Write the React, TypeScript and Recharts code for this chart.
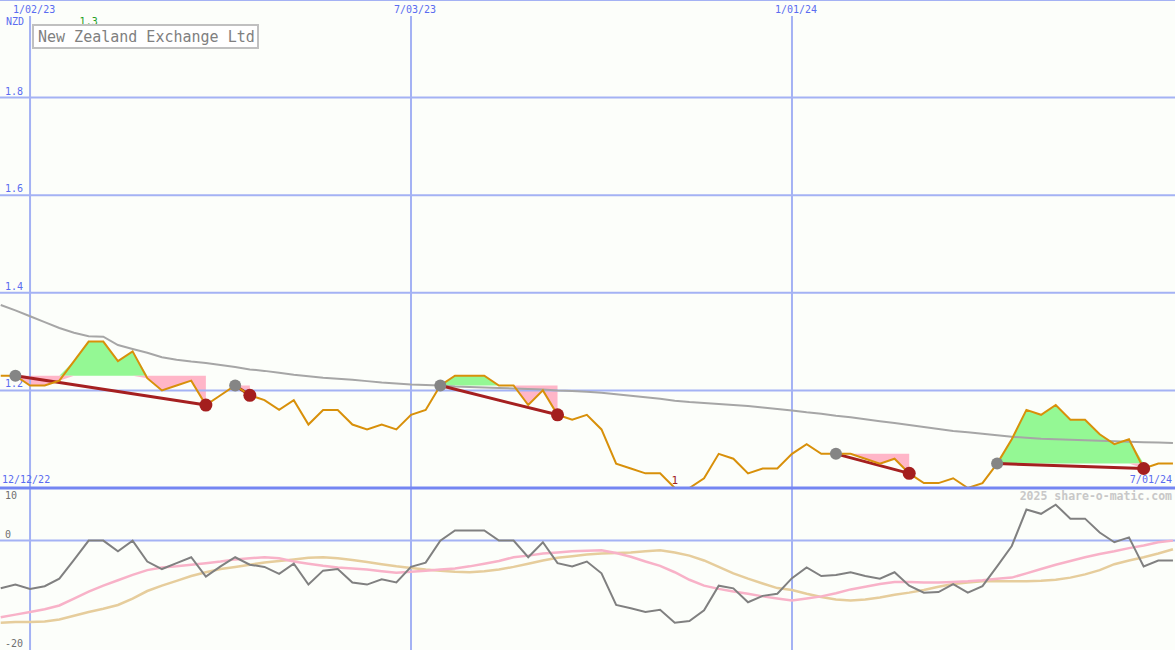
import { ComposedChart, Line, Area, XAxis, YAxis, ReferenceLine, ReferenceDot } from 'recharts';

// weekly points, week 0 = 2 Jan 2023
const weeks = [
  -2, -1, 0, 1, 2, 3, 4, 5, 6, 7, 8, 9, 10, 11, 12, 13, 14, 15, 16, 17, 18, 19, 20, 21, 22, 23, 24, 25, 26, 27,
  28, 29, 30, 31, 32, 33, 34, 35, 36, 37, 38, 39, 40, 41, 42, 43, 44, 45, 46, 47, 48, 49, 50, 51, 52, 53, 54, 55,
  56, 57, 58, 59, 60, 61, 62, 63, 64, 65, 66, 67, 68, 69, 70, 71, 72, 73, 74, 75, 76, 77, 78,
];

const price = [
  1.23, 1.23, 1.21, 1.21, 1.22, 1.26, 1.30, 1.30, 1.26, 1.28, 1.225, 1.20, 1.21, 1.22, 1.17, 1.19, 1.21, 1.19,
  1.18, 1.16, 1.18, 1.13, 1.16, 1.16, 1.13, 1.12, 1.13, 1.12, 1.15, 1.16, 1.21, 1.23, 1.23, 1.23, 1.21, 1.21,
  1.17, 1.20, 1.15, 1.14, 1.15, 1.12, 1.05, 1.04, 1.03, 1.03, 1.00, 1.00, 1.02, 1.07, 1.06, 1.03, 1.04, 1.04,
  1.07, 1.09, 1.07, 1.07, 1.07, 1.06, 1.05, 1.06, 1.03, 1.01, 1.01, 1.02, 1.00, 1.01, 1.05, 1.10, 1.16, 1.15,
  1.17, 1.14, 1.14, 1.11, 1.09, 1.10, 1.04, 1.05, 1.05,
];

const priceAvg = [
  1.375, 1.364, 1.352, 1.340, 1.328, 1.318, 1.311, 1.310, 1.293, 1.285, 1.277, 1.268, 1.263, 1.259, 1.256,
  1.252, 1.248, 1.243, 1.240, 1.236, 1.232, 1.229, 1.226, 1.224, 1.222, 1.219, 1.216, 1.214, 1.212, 1.211,
  1.210, 1.208, 1.207, 1.206, 1.205, 1.204, 1.203, 1.202, 1.200, 1.199, 1.197, 1.195, 1.192, 1.189, 1.186,
  1.183, 1.179, 1.176, 1.174, 1.172, 1.170, 1.168, 1.165, 1.162, 1.159, 1.155, 1.152, 1.148, 1.145, 1.141,
  1.137, 1.133, 1.129, 1.125, 1.121, 1.117, 1.114, 1.111, 1.108, 1.105, 1.103, 1.101, 1.100, 1.099, 1.098,
  1.097, 1.096, 1.095, 1.094, 1.093, 1.092,
];

const momentum = [
  -8.9, -8.2, -9.0, -8.5, -7.1, -3.6, 0, 0, -2.0, 0, -3.9, -5.3, -4.2, -3.1, -6.7, -4.8, -3.1, -4.5, -4.9, -6.2,
  -4.3, -8.2, -5.6, -5.3, -7.8, -8.2, -7.2, -7.8, -4.9, -4.1, 0, 1.9, 1.9, 1.9, 0, 0, -3.1, -0.3, -4.2, -4.8,
  -3.9, -6.1, -12.0, -12.6, -13.3, -12.9, -15.3, -15.0, -13.0, -8.4, -8.9, -11.5, -10.3, -9.9, -7.0, -5.0,
  -6.6, -6.4, -5.9, -6.6, -7.1, -5.9, -8.4, -9.7, -9.6, -8.1, -9.7, -8.5, -4.8, -1.0, 5.8, 5.0, 6.7, 4.1, 4.1,
  1.5, -0.3, 0.6, -4.8, -3.7, -3.7,
];

const momFast = [
  -14.3, -13.8, -13.3, -12.8, -12.1, -10.8, -9.5, -8.4, -7.4, -6.4, -5.5, -5.0, -4.8, -4.5, -4.2, -3.9, -3.5,
  -3.3, -3.1, -3.3, -3.9, -4.3, -4.7, -5.0, -5.2, -5.4, -5.7, -6.0, -5.8, -5.6, -5.4, -5.2, -4.8, -4.3, -3.8,
  -3.1, -2.8, -2.4, -2.2, -2.0, -1.9, -1.8, -2.3, -3.0, -3.9, -4.7, -5.9, -7.3, -8.4, -9.0, -9.5, -9.9, -10.4,
  -10.8, -11.15, -10.8, -10.4, -9.8, -9.1, -8.6, -8.1, -7.7, -7.7, -7.8, -7.8, -7.7, -7.6, -7.4, -7.1, -6.9,
  -6.1, -5.3, -4.5, -3.8, -3.1, -2.5, -2.0, -1.4, -0.9, -0.3, 0.0,
];

const momSlow = [
  -15.3, -15.2, -15.2, -15.1, -14.7, -14.0, -13.3, -12.7, -12.0, -10.8, -9.4, -8.4, -7.5, -6.6, -5.9, -5.3,
  -4.9, -4.5, -4.1, -3.8, -3.5, -3.2, -3.1, -3.3, -3.6, -4.0, -4.4, -4.8, -5.1, -5.4, -5.6, -5.8, -5.9, -5.7,
  -5.4, -4.9, -4.3, -3.7, -3.2, -2.9, -2.6, -2.4, -2.3, -2.2, -2.0, -1.8, -2.2, -2.8, -3.7, -4.9, -6.1, -7.1,
  -8.0, -8.85, -9.2, -9.9, -10.5, -11.0, -11.15, -11.0, -10.6, -10.1, -9.7, -9.2, -8.6, -8.1, -7.8, -7.6, -7.6,
  -7.6, -7.6, -7.5, -7.3, -6.9, -6.3, -5.5, -4.4, -3.7, -3.1, -2.4, -1.6,
];

// trend signals: start week (grey dot) -> end week (red dot)
const segStart = [-1, 14, 28, 55, 66];
const segEnd = [12, 15, 36, 60, 76];

const dateTicks = [0, 26, 52];
const dateLabels = ['1/02/23', '7/03/23', '1/01/24'];
const priceTicks = [1.2, 1.4, 1.6, 1.8];

const X_MIN = -2.05;
const X_MAX = 78.14;
const MONO = "'DejaVu Sans Mono', monospace";
const BLUE = '#5a6cf0';
const GRID = '#a4b2f4';

const rows = weeks.map((w, i) => {
  const row: any = {
    week: w,
    price: price[i],
    avg: priceAvg[i],
    mom: momentum[i],
    momFast: momFast[i],
    momSlow: momSlow[i],
  };
  segStart.forEach((s, k) => {
    const e = segEnd[k];
    if (w >= s && w <= e) {
      const level = price[weeks.indexOf(s)];
      const p = price[i];
      row.up = [level, Math.max(p, level)];
      row.down = [Math.min(p, level), level];
    }
    if (w === s || w === e) row['trend' + k] = price[i];
  });
  return row;
});

const maxPrice = Math.max(...price);
const minPrice = Math.min(...price);
const maxWeek = weeks[price.indexOf(maxPrice)];
const minWeek = weeks[price.indexOf(minPrice)];

// label drawn relative to a reference line's viewBox
const lineLabel = (text: string, dx: number, dy: number, fill: string) => (props: any) => {
  const vb = props.viewBox || {};
  return (
    <text x={vb.x + dx} y={vb.y + dy} fontSize={10} fontFamily={MONO} fill={fill}>
      {text}
    </text>
  );
};

export default function App() {
  return (
    <div style={{ position: 'absolute', left: 0, top: 0, width: 1175, height: 650, background: '#fcfefa', overflow: 'hidden' }}>
      {/* lower panel: momentum */}
      <div style={{ position: 'absolute', left: 0, top: 487 }}>
        <ComposedChart width={1175} height={163} data={rows} margin={{ top: 0, right: 0, bottom: 0, left: 0 }}>
          <XAxis dataKey="week" type="number" domain={[X_MIN, X_MAX]} allowDataOverflow hide />
          <YAxis domain={[-20.4, 10]} allowDataOverflow hide />
          <ReferenceLine y={0} stroke={GRID} strokeWidth={2} label={lineLabel('0', 5, -3, '#707070')} />
          <ReferenceLine y={10} stroke="none" label={lineLabel('10', 5, 12, '#707070')} />
          <ReferenceLine y={-20} stroke="none" label={lineLabel('-20', 5, -1, '#707070')} />
          {dateTicks.map(t => (
            <ReferenceLine key={t} x={t} stroke={GRID} strokeWidth={2} />
          ))}
          <Line dataKey="momSlow" type="linear" stroke="#e6cd9c" strokeWidth={2.5} dot={false} activeDot={false} isAnimationActive={false} />
          <Line dataKey="momFast" type="linear" stroke="#f8b2c8" strokeWidth={2.5} dot={false} activeDot={false} isAnimationActive={false} />
          <Line dataKey="mom" type="linear" stroke="#808080" strokeWidth={2} dot={false} activeDot={false} isAnimationActive={false} />
        </ComposedChart>
      </div>

      {/* upper panel: price */}
      <div style={{ position: 'absolute', left: 0, top: 0 }}>
        <ComposedChart width={1175} height={490} data={rows} margin={{ top: 0, right: 0, bottom: 2, left: 0 }}>
          <XAxis dataKey="week" type="number" domain={[X_MIN, X_MAX]} allowDataOverflow hide />
          <YAxis domain={[1, 2]} allowDataOverflow hide />
          {priceTicks.map(t => (
            <ReferenceLine key={t} y={t} stroke={GRID} strokeWidth={2} label={lineLabel(t.toFixed(1), 5, -3, BLUE)} />
          ))}
          <ReferenceLine y={2} stroke={GRID} strokeWidth={2} />
          {dateTicks.map((t, i) => (
            <ReferenceLine
              key={t}
              segment={[{ x: t, y: 1.967 }, { x: t, y: 1 }]}
              stroke={GRID}
              strokeWidth={2}
              label={lineLabel(dateLabels[i], -17, -3, BLUE)}
            />
          ))}
          <Area dataKey="up" type="linear" stroke="none" fill="#94f894" fillOpacity={1} activeDot={false} isAnimationActive={false} />
          <Area dataKey="down" type="linear" stroke="none" fill="#ffb6c8" fillOpacity={1} activeDot={false} isAnimationActive={false} />
          <Line dataKey="avg" type="linear" stroke="#a6a6a6" strokeWidth={2} dot={false} activeDot={false} isAnimationActive={false} />
          {segStart.map((s, k) => (
            <Line
              key={'trend' + k}
              dataKey={'trend' + k}
              type="linear"
              stroke="#a52020"
              strokeWidth={3}
              connectNulls
              activeDot={false}
              isAnimationActive={false}
              dot={(p: any) => {
                const { cx, cy, payload, index } = p;
                if (cy == null || payload['trend' + k] == null) return <g key={index} />;
                const isStart = payload.week === s;
                return (
                  <circle key={index} cx={cx} cy={cy} r={isStart ? 6 : 6.5} fill={isStart ? '#858585' : '#a41e1e'} />
                );
              }}
            />
          ))}
          <Line dataKey="price" type="linear" stroke="#d8900a" strokeWidth={2} dot={false} activeDot={false} isAnimationActive={false} />
          <ReferenceLine y={1} stroke="#7486f2" strokeWidth={3} />
          <ReferenceDot
            x={minWeek}
            y={1}
            r={0}
            stroke="none"
            label={{ value: String(minPrice), position: 'top', offset: 4, fill: '#a02020', fontSize: 11, fontFamily: MONO }}
          />
          <ReferenceDot
            x={maxWeek}
            y={1.957}
            r={0}
            stroke="none"
            label={{ value: String(maxPrice), position: 'center', fill: '#22a022', fontSize: 10, fontFamily: MONO }}
          />
        </ComposedChart>
      </div>

      {/* static labels */}
      <svg width={1175} height={650} style={{ position: 'absolute', left: 0, top: 0, pointerEvents: 'none' }}>
        <text x={6} y={25} fontSize={10} fontFamily={MONO} fill={BLUE}>NZD</text>
        <text x={2} y={483} fontSize={10} fontFamily={MONO} fill={BLUE}>12/12/22</text>
        <text x={1172} y={483} fontSize={10} fontFamily={MONO} fill={BLUE} textAnchor="end">7/01/24</text>
        <rect x={33} y={25} width={225} height={23} fill="#ffffff" stroke="#c0c0c0" strokeWidth={2} />
        <text x={38} y={42} fontSize={15} fontFamily={MONO} fill="#808080">New Zealand Exchange Ltd</text>
        <text x={1172} y={500} fontSize={11.5} fontFamily={MONO} fontWeight="bold" fill="#c8c8c8" textAnchor="end">
          2025 share-o-matic.com
        </text>
      </svg>
    </div>
  );
}
